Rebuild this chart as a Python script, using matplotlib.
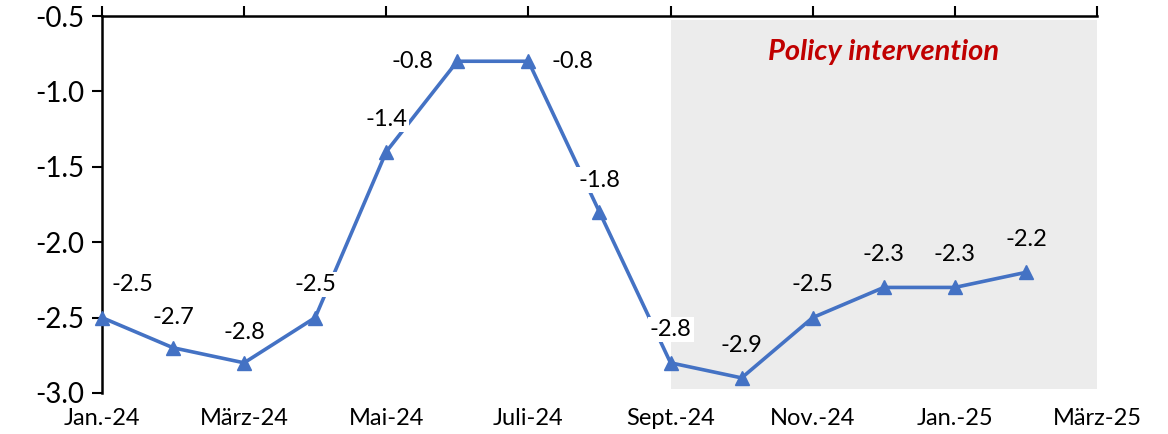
import matplotlib
matplotlib.use("Agg")
import matplotlib.pyplot as plt
from matplotlib.patches import Rectangle

months = ["Jan.-24", "Feb.-24", "März-24", "Apr.-24", "Mai-24", "Juni-24", "Juli-24",
          "Aug.-24", "Sept.-24", "Okt.-24", "Nov.-24", "Dez.-24", "Jan.-25", "Feb.-25"]
values = [-2.5, -2.7, -2.8, -2.5, -1.4, -0.8, -0.8, -1.8, -2.8, -2.9, -2.5, -2.3, -2.3, -2.2]
tick_labels = ["Jan.-24", "März-24", "Mai-24", "Juli-24", "Sept.-24", "Nov.-24", "Jan.-25", "März-25"]
yticks = [-0.5, -1.0, -1.5, -2.0, -2.5, -3.0]
policy_start = 8   # Sept.-24
policy_end = 14    # März-25

plt.rcParams['font.family'] = ['Lato', 'DejaVu Sans']

fig = plt.figure(figsize=(11.68, 4.34), dpi=100)
ax = fig.add_axes([0.0873, 0.0945, 0.8519, 0.8686])

x = list(range(len(values)))
ax.set_xlim(0, 14)
ax.set_ylim(-3.0, -0.5)

ax.add_patch(Rectangle((policy_start, -2.975), policy_end - policy_start, 2.45,
                       facecolor="#ececec", edgecolor="none", zorder=0))
ax.text((policy_start + policy_end) / 2, -0.74, "Policy intervention", color="#c00000",
        fontsize=21, fontweight="bold", fontstyle="italic", ha="center", va="center")

ax.plot(x, values, color="#4472C4", linewidth=2.6, marker="^", markersize=10,
        zorder=3, clip_on=False)

# label offsets in points (dx, dy)
offsets = [(22, 24), (0, 22), (0, 22), (0, 24), (0, 23), (-32, 0), (32, 0),
           (0, 23), (0, 24), (0, 23), (0, 24), (0, 24), (0, 24), (0, 24)]
for i, (xi, v) in enumerate(zip(x, values)):
    dx, dy = offsets[i]
    inside = xi >= policy_start + 1
    bbox = None if inside else dict(facecolor="white", edgecolor="none", pad=1.5)
    ax.annotate(f"{v:.1f}", (xi, v), xytext=(dx, dy), textcoords="offset points",
                ha="center", va="center", fontsize=17, color="black", bbox=bbox, zorder=4)

ax.set_xticks(range(0, 15, 2))
ax.set_xticklabels(tick_labels)
ax.set_yticks(yticks)
ax.set_yticklabels([f"{t:.1f}" for t in yticks])
ax.tick_params(axis="x", top=True, bottom=False, labeltop=False, labelbottom=True,
               direction="out", length=7, width=1.5, labelsize=17, pad=4)
ax.tick_params(axis="y", direction="out", length=7, width=1.5, labelsize=20, pad=6)

ax.spines["bottom"].set_visible(False)
ax.spines["right"].set_visible(False)
ax.spines["top"].set_linewidth(1.8)
ax.spines["left"].set_linewidth(1.8)

fig.savefig("out.png", dpi=100)
